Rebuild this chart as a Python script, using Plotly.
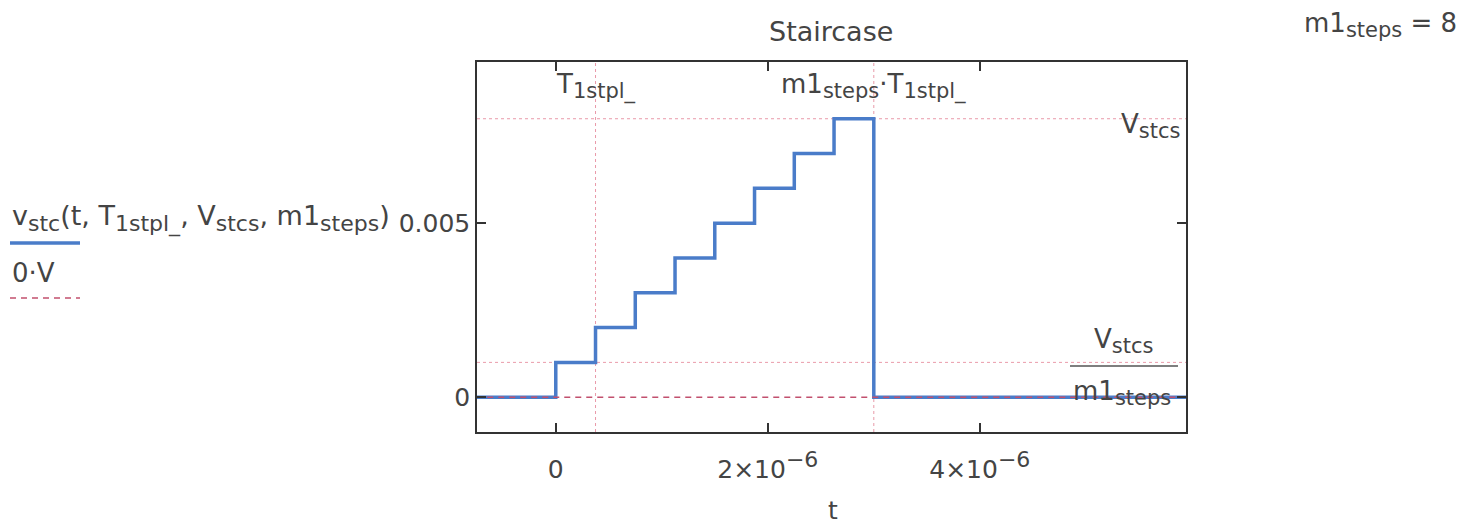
import plotly.graph_objects as go

# ---- data ----
T1stpl = 0.375e-6          # step duration
m1steps = 8                # number of steps
Vstcs = 0.008              # final staircase voltage

t_stair = [-0.75e-6, 0.0, 0.375e-6, 0.75e-6, 1.125e-6, 1.5e-6, 1.875e-6,
           2.25e-6, 2.625e-6, 3.0e-6, 6.0e-6]
v_stair = [0.0, 0.001, 0.002, 0.003, 0.004, 0.005, 0.006, 0.007, 0.008, 0.0, 0.0]

t_zero = [-0.75e-6, 6.0e-6]
v_zero = [0.0, 0.0]

x_tickvals = [0.0, 2e-6, 4e-6]
x_ticktext = ["0",
              "2×10<sup><span style='font-size:22px'>−6</span></sup>",
              "4×10<sup><span style='font-size:22px'>−6</span></sup>"]
y_tickvals = [0.0, 0.005]
y_ticktext = ["0", "0.005"]

# ---- layout geometry (pixels) ----
W, H = 1482, 525
L, R, TOP, BOT = 477, 1186, 62, 432
FONT = "DejaVu Sans"
TXT = "#444444"
BLUE = "#4a7cc9"
RED = "#c2506e"
MARK = "rgba(225,120,140,0.75)"


def px(x):
    return (x - L) / (R - L)


def py(y):
    return (BOT - y) / (BOT - TOP)


def sub(s, size=21):
    return f"<sub><span style='font-size:{size}px'>{s}</span></sub>"


fig = go.Figure()
fig.add_trace(go.Scatter(x=t_stair, y=v_stair, mode="lines", line_shape="hv",
                         line=dict(color=BLUE, width=3.5), showlegend=False,
                         hoverinfo="skip"))
fig.add_trace(go.Scatter(x=t_zero, y=v_zero, mode="lines",
                         line=dict(color=RED, width=1.5, dash="6px,5px"),
                         showlegend=False, hoverinfo="skip"))

shapes = []
# marker lines
for yv in [Vstcs, Vstcs / m1steps]:
    shapes.append(dict(type="line", xref="paper", yref="y", x0=0, x1=1, y0=yv, y1=yv,
                       line=dict(color=MARK, width=1, dash="dot"), layer="below"))
for xv in [T1stpl, m1steps * T1stpl]:
    shapes.append(dict(type="line", xref="x", yref="paper", x0=xv, x1=xv, y0=0, y1=1,
                       line=dict(color=MARK, width=1, dash="dot"), layer="below"))
# fraction bar of Vstcs / m1steps label
shapes.append(dict(type="line", xref="paper", yref="paper", x0=px(1070), x1=px(1178),
                   y0=py(366), y1=py(366), line=dict(color="#555555", width=1.5)))
# legend samples
shapes.append(dict(type="line", xref="paper", yref="paper", x0=px(10), x1=px(80),
                   y0=py(243), y1=py(243), line=dict(color=BLUE, width=3.5)))
shapes.append(dict(type="line", xref="paper", yref="paper", x0=px(10), x1=px(80),
                   y0=py(298), y1=py(298), line=dict(color=RED, width=1.5, dash="6px,5px")))

ann = []


def A(text, x, y, xref="paper", yref="paper", xanchor="center", size=25, **kw):
    ann.append(dict(text=text, x=x, y=y, xref=xref, yref=yref, xanchor=xanchor,
                    yanchor="middle", showarrow=False,
                    font=dict(family=FONT, size=size, color=TXT), **kw))


A("Staircase", px(831), py(32), size=27)
A("m1" + sub("steps") + " = 8", px(1380), py(25), size=26)
A("t", px(833), py(510), size=25)
A("T" + sub("1stpl_"), T1stpl, py(86), xref="x", size=26)
A("m1" + sub("steps") + "·T" + sub("1stpl_"), m1steps * T1stpl, py(86), xref="x", size=26)
A("V" + sub("stcs"), 1, py(126), xanchor="right", xshift=-4, size=26)
A("V" + sub("stcs"), px(1123), py(341), size=26)
A("m1" + sub("steps"), px(1122), py(393), size=26)
A("v" + sub("stc", 22) + "(t, T" + sub("1stpl_", 22) + ", V" + sub("stcs", 22) + ", m1"
  + sub("steps", 22) + ")", px(10), py(218), xanchor="left", size=27)
A("0·V", px(10), py(273), xanchor="left", size=26)

fig.update_layout(
    width=W, height=H,
    margin=dict(l=L, r=W - R, t=TOP, b=H - BOT, pad=0),
    paper_bgcolor="white", plot_bgcolor="white",
    shapes=shapes, annotations=ann,
    font=dict(family=FONT, size=25, color=TXT),
    xaxis=dict(range=[-0.743e-6, 5.945e-6], tickvals=x_tickvals, ticktext=x_ticktext,
               ticks="inside", ticklen=9, tickcolor="#333333", tickwidth=1.5,
               showline=True, linecolor="#333333", linewidth=1.5, mirror="ticks",
               showgrid=False, zeroline=False, ticklabelstandoff=14,
               tickfont=dict(family=FONT, size=25, color=TXT)),
    yaxis=dict(range=[-0.001, 0.00963], tickvals=y_tickvals, ticktext=y_ticktext,
               ticks="inside", ticklen=9, tickcolor="#333333", tickwidth=1.5,
               showline=True, linecolor="#333333", linewidth=1.5, mirror="ticks",
               showgrid=False, zeroline=False,
               tickfont=dict(family=FONT, size=25, color=TXT)),
)

fig.write_html("out.html")
